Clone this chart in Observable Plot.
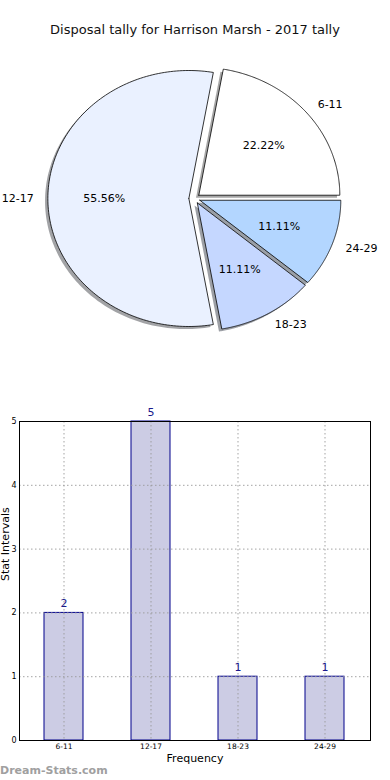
<!DOCTYPE html>
<html>
<head>
<meta charset="utf-8">
<script src="https://cdn.jsdelivr.net/npm/d3@7"></script>
<script src="https://cdn.jsdelivr.net/npm/@observablehq/plot@0.6"></script>
<style>
  html, body { margin: 0; padding: 0; background: #fff; }
  #wrap { position: relative; width: 390px; height: 780px; overflow: hidden; font-family: "DejaVu Sans", sans-serif; }
  #title { position: absolute; left: 0; top: 22px; width: 390px; text-align: center; font-size: 13px; line-height: 16px; color: #111; }
  #pie { position: absolute; left: 0; top: 0; }
  #bar { position: absolute; left: 0; top: 400px; }
  #wm { position: absolute; left: 0; top: 763px; font-size: 11px; line-height: 16px; color: #a0a0a0; font-weight: bold; }
  svg { font-family: "DejaVu Sans", sans-serif; }
</style>
</head>
<body>
<div id="wrap">
  <div id="pie"></div>
  <div id="title">Disposal tally for Harrison Marsh - 2017 tally</div>
  <div id="bar"></div>
  <div id="wm">Dream-Stats.com</div>
</div>
<script>
// ---- data ----
const categories = ["6-11", "12-17", "18-23", "24-29"];
const counts = [2, 5, 1, 1];
const pieColors = ["#ffffff", "#eaf1ff", "#c5d7ff", "#b3d6ff"];
const yTicks = [0, 1, 2, 3, 4, 5];

// ---- pie ----
const total = d3.sum(counts);
const explode = 0.04;
let acc = 0;
const slices = categories.map((c, i) => {
  const a0 = acc / total * 2 * Math.PI;
  acc += counts[i];
  const a1 = acc / total * 2 * Math.PI;
  const m = (a0 + a1) / 2;
  return {cat: c, value: counts[i], a0, a1, m,
          ox: explode * Math.cos(m), oy: explode * Math.sin(m), color: pieColors[i]};
});
function poly(s, dx = 0, dy = 0) {
  const pts = [[s.ox + dx, s.oy + dy]];
  const n = 160;
  for (let k = 0; k <= n; k++) {
    const a = s.a0 + (s.a1 - s.a0) * k / n;
    pts.push([s.ox + dx + Math.cos(a), s.oy + dy + Math.sin(a)]);
  }
  pts.push([s.ox + dx, s.oy + dy]);
  return pts;
}
const labelPts = slices.map(s => ({
  text: s.cat,
  x: s.ox + 1.1 * Math.cos(s.m), y: s.oy + 1.1 * Math.sin(s.m)
}));
const pctPts = slices.map(s => ({
  text: d3.format(".2f")(s.value / total * 100) + "%",
  x: s.ox + 0.6 * Math.cos(s.m), y: s.oy + 0.6 * Math.sin(s.m)
}));

const shadowMarks = slices.map(s => {
  const c = d3.rgb(s.color);
  const sc = d3.rgb(c.r * 0.3, c.g * 0.3, c.b * 0.3).formatHex();
  return Plot.line(poly(s, -0.02, -0.02), {x: d => d[0], y: d => d[1], fill: sc, fillOpacity: 0.5, stroke: "none", curve: "linear"});
});
const wedgeMarks = slices.map(s =>
  Plot.line(poly(s), {x: d => d[0], y: d => d[1], fill: s.color, stroke: "#000", strokeWidth: 0.8, strokeLinejoin: "miter", curve: "linear"})
);

const pie = Plot.plot({
  width: 390, height: 370,
  marginLeft: 0, marginRight: 0, marginTop: 0, marginBottom: 0,
  x: {domain: [-194 / 141, 196 / 141], axis: null},
  y: {domain: [(198 - 370) / 128, 198 / 128], axis: null},
  marks: [
    ...shadowMarks,
    ...wedgeMarks,
    Plot.text(labelPts.filter(d => d.x > 0), {x: "x", y: "y", text: "text", textAnchor: "start", fontSize: 11, fill: "#000"}),
    Plot.text(labelPts.filter(d => d.x <= 0), {x: "x", y: "y", text: "text", textAnchor: "end", fontSize: 11, fill: "#000"}),
    Plot.text(pctPts, {x: "x", y: "y", text: "text", textAnchor: "middle", fontSize: 11, fill: "#000"})
  ]
});
document.getElementById("pie").appendChild(pie);

// ---- bar ----
const barData = categories.map((c, i) => ({cat: c, count: counts[i]}));
const bar = Plot.plot({
  width: 390, height: 380,
  marginLeft: 19, marginRight: 20, marginTop: 21, marginBottom: 40,
  x: {type: "band", domain: categories, paddingInner: 0.55, paddingOuter: 0.275},
  y: {domain: [0, 5]},
  marks: [
    Plot.barY(barData, {x: "cat", y: "count", fill: "#ccccE4", stroke: "#00008b", strokeWidth: 1}),
    Plot.gridX({stroke: "#999", strokeOpacity: 0.9, strokeDasharray: "1.5,2.5"}),
    Plot.gridY({ticks: yTicks, stroke: "#999", strokeOpacity: 0.9, strokeDasharray: "1.5,2.5"}),
    Plot.frame({stroke: "#000", strokeWidth: 1}),
    Plot.axisX({tickSize: 0, tickPadding: 3, fontSize: 7.5, label: null, fill: "#000"}),
    Plot.axisY({ticks: yTicks, tickFormat: d3.format("d"), tickSize: 0, tickPadding: 3, fontSize: 8, label: null, fill: "#000"}),
    Plot.text(barData, {x: "cat", y: "count", text: d => String(d.count), dy: -9, fontSize: 11, fill: "#1a1a8c"}),
    Plot.text(["Frequency"], {frameAnchor: "bottom", dy: 21, fontSize: 11, fill: "#000"}),
    Plot.text(["Stat Intervals"], {frameAnchor: "left", rotate: -90, dx: -14, fontSize: 11, fill: "#000"})
  ]
});
document.getElementById("bar").appendChild(bar);
</script>
</body>
</html>
